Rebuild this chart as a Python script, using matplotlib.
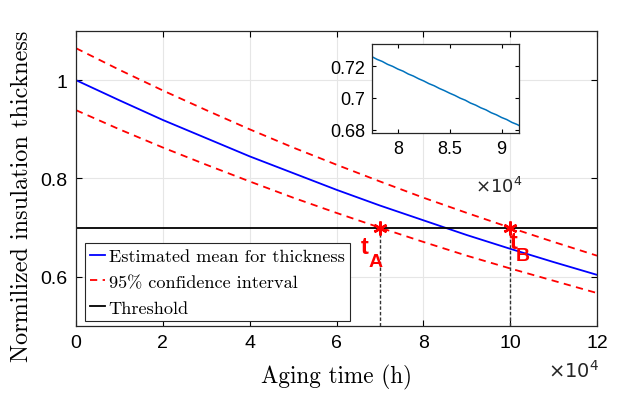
import numpy as np
import matplotlib.pyplot as plt

# aging time in units of 1e4 h
t_main = [0, 1, 2, 3, 4, 5, 6, 7, 8, 9, 10, 11, 12]
mean_thk = [1.000, 0.959, 0.919, 0.882, 0.845, 0.811, 0.777, 0.745, 0.715, 0.685, 0.657, 0.630, 0.604]
upper_ci = [1.065, 1.021, 0.979, 0.939, 0.900, 0.863, 0.828, 0.794, 0.761, 0.730, 0.700, 0.671, 0.643]
lower_ci = [0.939, 0.900, 0.863, 0.828, 0.794, 0.761, 0.730, 0.700, 0.671, 0.643, 0.617, 0.592, 0.567]
threshold = 0.7
t_marks = [7, 10]
mark_labels = ['A', 'B']

# inset (zoom on mean curve)
t_inset = [7.75, 7.80, 7.85, 7.90, 7.95, 8.00, 8.05, 8.10, 8.15, 8.20, 8.25, 8.30, 8.35, 8.40, 8.45,
           8.50, 8.55, 8.60, 8.65, 8.70, 8.75, 8.80, 8.85, 8.90, 8.95, 9.00, 9.05, 9.10, 9.15, 9.17]
mean_inset = [0.7260, 0.7243, 0.7230, 0.7212, 0.7199, 0.7182, 0.7169, 0.7151, 0.7138, 0.7121,
              0.7107, 0.7090, 0.7077, 0.7060, 0.7046, 0.7030, 0.7016, 0.6999, 0.6986, 0.6968,
              0.6955, 0.6938, 0.6925, 0.6907, 0.6894, 0.6877, 0.6864, 0.6846, 0.6833, 0.6826]

x_ticks = [0, 2, 4, 6, 8, 10, 12]
y_ticks = [0.6, 0.8, 1.0]
y_ticklabels = ['0.6', '0.8', '1']

sans = 'Liberation Sans'
serif = 'cmr10'

fig = plt.figure(figsize=(6.21, 4.02), dpi=100)
ax = fig.add_axes([0.1224, 0.1866, 0.839, 0.7338])

scale = 1e4
tm = np.array(t_main) * scale
ax.plot(tm, mean_thk, color='#0000ff', lw=1.3, label='Estimated mean for thickness')
ax.plot(tm, upper_ci, color='#ff0000', lw=1.3, ls=(0, (4, 3)), label='95% confidence interval')
ax.plot(tm, lower_ci, color='#ff0000', lw=1.3, ls=(0, (4, 3)))
ax.axhline(threshold, color='black', lw=1.3, label='Threshold')

for tk, lab in zip(t_marks, mark_labels):
    ax.plot([tk * scale, tk * scale], [0.5, threshold], color='#333333', lw=1.0, ls=(0, (2.5, 1.5)))
    ax.plot(tk * scale, threshold, marker=(6, 2, 0), color='red', ms=10, mew=1.8, mec='red')

ax.text(6.66e4, 0.661, 't', color='red', fontsize=17, fontweight='bold', family=sans, ha='center', va='center')
ax.text(6.89e4, 0.631, 'A', color='red', fontsize=14, fontweight='bold', family=sans, ha='center', va='center')
ax.text(10.09e4, 0.671, 't', color='red', fontsize=17, fontweight='bold', family=sans, ha='center', va='center')
ax.text(10.28e4, 0.643, 'B', color='red', fontsize=14, fontweight='bold', family=sans, ha='center', va='center')

ax.set_xlim(0, 12e4)
ax.set_ylim(0.5, 1.1)
ax.set_xticks([v * scale for v in x_ticks])
ax.set_xticklabels([str(v) for v in x_ticks], family=sans, fontsize=14)
ax.set_yticks(y_ticks)
ax.set_yticklabels(y_ticklabels, family=sans, fontsize=14)
ax.tick_params(direction='in', top=True, right=True, length=4, width=0.8, pad=6)
ax.grid(True, color='#e6e6e6', lw=0.8)
ax.set_axisbelow(True)
for s in ax.spines.values():
    s.set_linewidth(0.9)
    s.set_color('#262626')

ax.set_xlabel('Aging time (h)', family=serif, fontsize=16.7)
ax.set_ylabel('Normilized insulation thickness', family=serif, fontsize=17.5)
ax.xaxis.set_label_coords(0.5, -0.13)
ax.yaxis.set_label_coords(-0.083, 0.444)
fig.text(0.882, 0.06, r'$\times10^{4}$', family=sans, fontsize=14, color='#262626', va='baseline')

leg = ax.legend(loc='lower left', bbox_to_anchor=(0.017, 0.017), prop={'family': serif, 'size': 13.1},
                handlelength=0.8, handletextpad=0.2, borderpad=0.3, labelspacing=0.55,
                fancybox=False, framealpha=1, edgecolor='#262626', borderaxespad=0)
leg.get_frame().set_linewidth(0.8)

# inset
axi = fig.add_axes([0.599, 0.667, 0.237, 0.221])
axi.plot(np.array(t_inset) * scale, mean_inset, color='#0072BD', lw=1.1)
axi.set_xlim(7.75e4, 9.17e4)
axi.set_ylim(0.678, 0.734)
axi.set_xticks([8e4, 8.5e4, 9e4])
axi.set_xticklabels(['8', '8.5', '9'], family=sans, fontsize=13)
axi.set_yticks([0.68, 0.7, 0.72])
axi.set_yticklabels(['0.68', '0.7', '0.72'], family=sans, fontsize=13)
axi.tick_params(direction='in', top=True, right=True, length=3, width=0.8, pad=5)
for s in axi.spines.values():
    s.set_linewidth(0.9)
    s.set_color('#262626')
fig.text(0.765, 0.52, r'$\times10^{4}$', family=sans, fontsize=13, color='#262626')

fig.savefig('out.png', dpi=100)
